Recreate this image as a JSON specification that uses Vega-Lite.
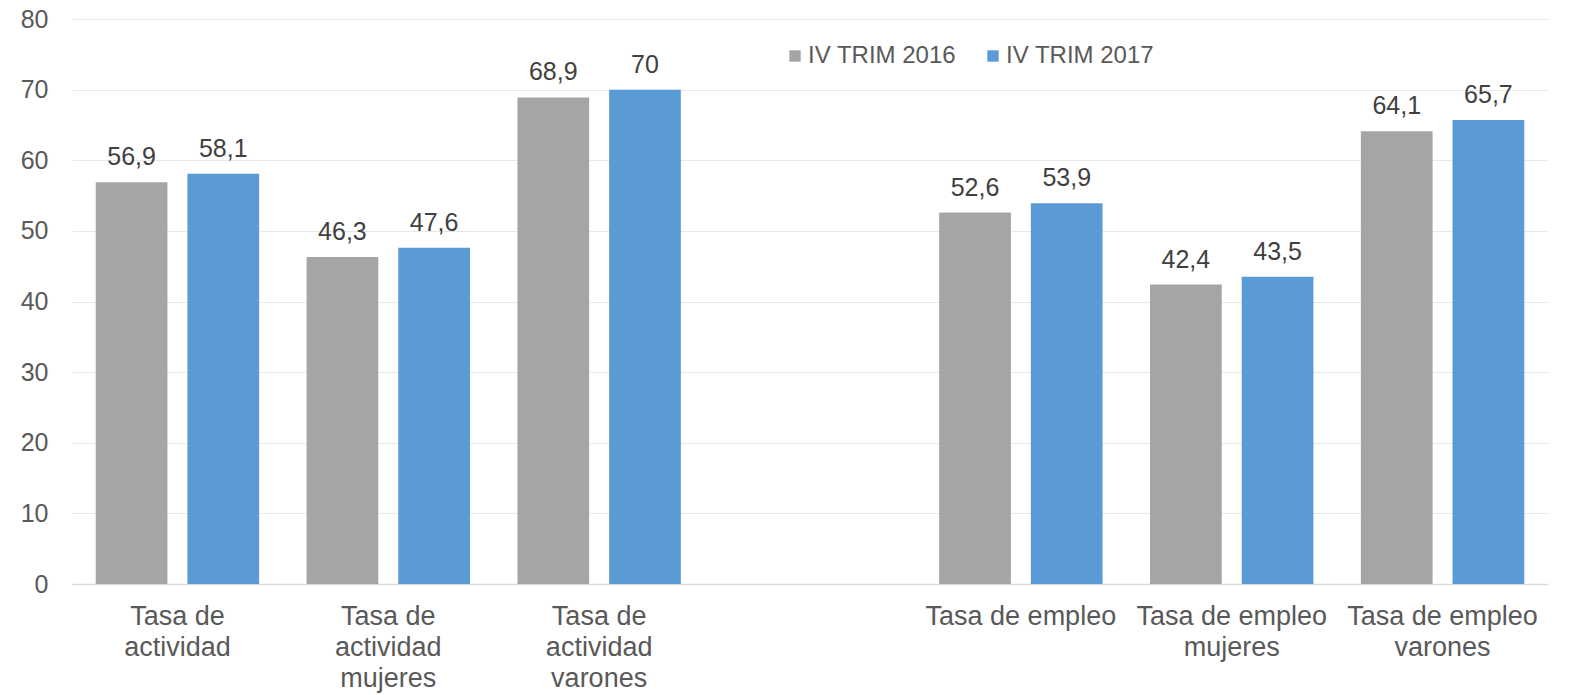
{
  "$schema": "https://vega.github.io/schema/vega-lite/v6.json",
  "autosize": {"type": "none"},
  "padding": {"left": 72, "top": 19, "right": 22, "bottom": 111},
  "width": 1476,
  "height": 565,
  "background": "white",
  "data": {
    "values": [
      {"categoria": "Tasa de\nactividad", "periodo": "IV TRIM 2016", "valor": 56.9},
      {"categoria": "Tasa de\nactividad", "periodo": "IV TRIM 2017", "valor": 58.1},
      {"categoria": "Tasa de\nactividad\nmujeres", "periodo": "IV TRIM 2016", "valor": 46.3},
      {"categoria": "Tasa de\nactividad\nmujeres", "periodo": "IV TRIM 2017", "valor": 47.6},
      {"categoria": "Tasa de\nactividad\nvarones", "periodo": "IV TRIM 2016", "valor": 68.9},
      {"categoria": "Tasa de\nactividad\nvarones", "periodo": "IV TRIM 2017", "valor": 70},
      {"categoria": "Tasa de empleo", "periodo": "IV TRIM 2016", "valor": 52.6},
      {"categoria": "Tasa de empleo", "periodo": "IV TRIM 2017", "valor": 53.9},
      {"categoria": "Tasa de empleo\nmujeres", "periodo": "IV TRIM 2016", "valor": 42.4},
      {"categoria": "Tasa de empleo\nmujeres", "periodo": "IV TRIM 2017", "valor": 43.5},
      {"categoria": "Tasa de empleo\nvarones", "periodo": "IV TRIM 2016", "valor": 64.1},
      {"categoria": "Tasa de empleo\nvarones", "periodo": "IV TRIM 2017", "valor": 65.7}
    ]
  },
  "encoding": {
    "x": {
      "field": "categoria",
      "type": "nominal",
      "sort": null,
      "scale": {
        "domain": ["Tasa de\nactividad", "Tasa de\nactividad\nmujeres", "Tasa de\nactividad\nvarones", " ", "Tasa de empleo", "Tasa de empleo\nmujeres", "Tasa de empleo\nvarones"],
        "paddingInner": 0.225,
        "paddingOuter": 0.1125
      },
      "axis": {
        "title": null,
        "labelAngle": 0,
        "labelExpr": "split(datum.label, '\\n')",
        "labelFont": "Liberation Sans",
        "labelFontSize": 27,
        "labelColor": "#595959",
        "labelLineHeight": 31,
        "labelPadding": 19,
        "labelOverlap": false,
        "labelLimit": 0,
        "ticks": false,
        "grid": false,
        "domainColor": "#d9d9d9",
        "domainWidth": 1.5
      }
    },
    "xOffset": {
      "field": "periodo",
      "type": "nominal",
      "scale": {"paddingInner": 0.218, "paddingOuter": 0}
    },
    "y": {
      "field": "valor",
      "type": "quantitative",
      "scale": {"domain": [0, 80], "nice": false},
      "axis": {
        "title": null,
        "values": [0, 10, 20, 30, 40, 50, 60, 70, 80],
        "labelFont": "Liberation Sans",
        "labelFontSize": 25,
        "labelColor": "#595959",
        "labelPadding": 24,
        "ticks": false,
        "domain": false,
        "gridColor": "#e8e8e8",
        "gridWidth": 1
      }
    }
  },
  "layer": [
    {
      "mark": {"type": "bar"},
      "encoding": {
        "color": {
          "field": "periodo",
          "type": "nominal",
          "scale": {"domain": ["IV TRIM 2016", "IV TRIM 2017"], "range": ["#A5A5A5", "#5B9BD5"]},
          "legend": {
            "title": null,
            "orient": "none",
            "legendX": 711,
            "legendY": 25,
            "direction": "horizontal",
            "symbolType": "square",
            "symbolSize": 130,
            "symbolStrokeWidth": 0,
            "labelFont": "Liberation Sans",
            "labelFontSize": 24,
            "labelColor": "#595959",
            "labelOffset": 1,
            "columnPadding": 24
          }
        }
      }
    },
    {
      "mark": {"type": "text", "baseline": "alphabetic", "dy": -17, "font": "Liberation Sans", "fontSize": 25, "color": "#404040"},
      "encoding": {
        "text": {"field": "valor", "type": "quantitative", "format": ".1~f"}
      }
    }
  ],
  "config": {
    "view": {"stroke": null},
    "locale": {"number": {"decimal": ",", "thousands": ".", "grouping": [3], "currency": ["", " €"]}}
  }
}
